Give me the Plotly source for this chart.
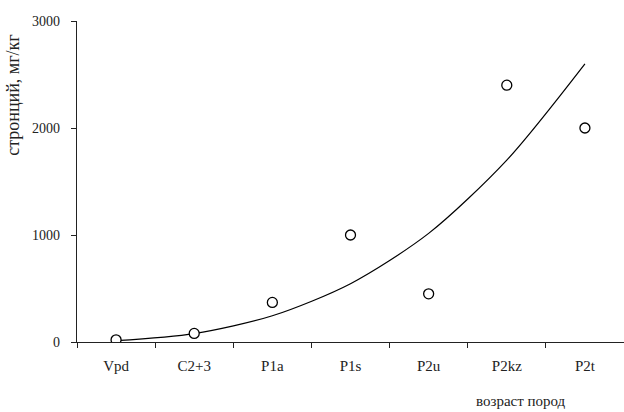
import plotly.graph_objects as go

categories = ["Vpd", "C2+3", "P1a", "P1s", "P2u", "P2kz", "P2t"]
strontium = [20, 80, 370, 1000, 450, 2400, 2000]
trend = [12, 78, 245, 545, 1015, 1700, 2600]
y_ticks = [0, 1000, 2000, 3000]

font_family = "Liberation Serif, Times New Roman, serif"

fig = go.Figure()
fig.add_trace(go.Scatter(
    x=categories, y=trend, mode="lines",
    line=dict(color="black", width=1.2, shape="spline", smoothing=0.8),
    hoverinfo="skip", showlegend=False,
))
fig.add_trace(go.Scatter(
    x=categories, y=strontium, mode="markers",
    marker=dict(symbol="circle", size=10, color="white",
                line=dict(color="black", width=1.3)),
    showlegend=False,
))

fig.update_layout(
    width=624, height=412,
    margin=dict(l=77, r=0, t=21, b=70),
    paper_bgcolor="white", plot_bgcolor="white",
    font=dict(family=font_family, size=14, color="#222"),
    xaxis=dict(
        type="category", range=[-0.5, 6.5],
        showline=True, linecolor="#222", linewidth=1.3,
        ticks="outside", tickson="boundaries", ticklen=5, tickcolor="#222",
        showgrid=False, zeroline=False,
        ticklabelstandoff=10,
        tickfont=dict(family=font_family, size=15, color="#222"),
    ),
    yaxis=dict(
        range=[0, 3000], tickvals=y_ticks,
        showline=True, linecolor="#222", linewidth=1.3,
        ticks="outside", ticklen=5, tickcolor="#222",
        showgrid=False, zeroline=False,
        ticklabelstandoff=8,
    ),
    annotations=[
        dict(text="стронций, мг/кг", xref="paper", yref="paper",
             x=-0.117, y=0.77, xanchor="center", yanchor="middle",
             textangle=-90, showarrow=False,
             font=dict(family=font_family, size=18, color="#222")),
        dict(text="возраст пород", xref="paper", yref="paper",
             x=0.812, y=-0.183, xanchor="center", yanchor="middle",
             showarrow=False,
             font=dict(family=font_family, size=15, color="#222")),
    ],
)

fig.write_html("out.html", config={"displayModeBar": False},
               post_script="document.body.style.margin='0';")
